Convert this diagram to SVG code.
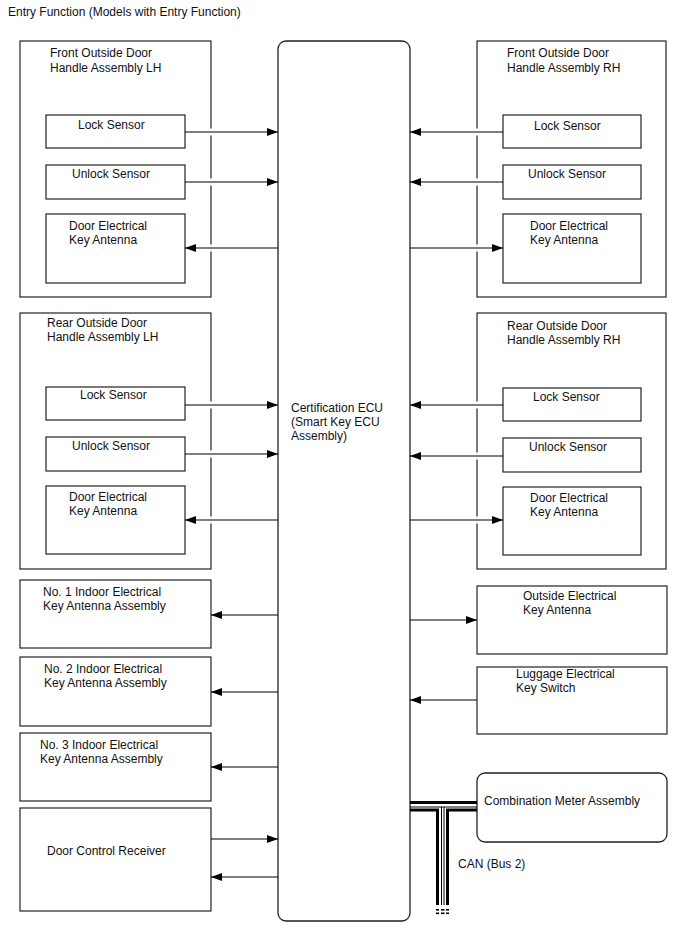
<svg xmlns="http://www.w3.org/2000/svg" width="688" height="949" viewBox="0 0 688 949">
<defs>
<marker id="ah" markerUnits="userSpaceOnUse" markerWidth="12" markerHeight="9" refX="11" refY="4" orient="auto" viewBox="0 0 12 9">
<path d="M0,0 L11,4 L0,8 z" fill="#000"/>
</marker>
<style>
text{font-family:"Liberation Sans",Arial,sans-serif;font-size:12px;fill:#111}
.box{fill:#fff;stroke:#222;stroke-width:1.2}
.rbox{fill:#fff;stroke:#222;stroke-width:1.3}
.c{fill:none;stroke:#000;stroke-width:1.1}
.a{fill:none;stroke:#000;stroke-width:1.1;marker-end:url(#ah)}
.halo{stroke:#fff;stroke-width:7;fill:none}
.thick{fill:none;stroke:#000;stroke-width:3}
.thin{fill:none;stroke:#000;stroke-width:1}
</style>
</defs>
<rect width="688" height="949" fill="#fff"/>
<text x="8" y="16">Entry Function (Models with Entry Function)</text>

<g id="ecu">
<rect class="rbox" x="278" y="41" width="132" height="880" rx="8"/>
<text x="291" y="412">Certification ECU</text>
<text x="291" y="426">(Smart Key ECU</text>
<text x="291" y="440">Assembly)</text>
</g>

<g id="front-lh">
<rect class="box" x="20" y="41" width="191" height="256"/>
<text x="50" y="57">Front Outside Door</text>
<text x="50" y="72">Handle Assembly LH</text>
</g>
<g id="front-lh-lock"><rect class="box" x="46" y="115" width="139" height="33"/><text x="78" y="129">Lock Sensor</text></g>
<g id="front-lh-unlock"><rect class="box" x="46" y="165" width="139" height="34"/><text x="72" y="178">Unlock Sensor</text></g>
<g id="front-lh-ant"><rect class="box" x="46" y="214" width="139" height="69"/><text x="69" y="230">Door Electrical</text><text x="69" y="244">Key Antenna</text></g>

<g id="front-rh">
<rect class="box" x="477" y="41" width="189" height="256"/>
<text x="507" y="57">Front Outside Door</text>
<text x="507" y="72">Handle Assembly RH</text>
</g>
<g id="front-rh-lock"><rect class="box" x="503" y="115" width="138" height="33"/><text x="534" y="130">Lock Sensor</text></g>
<g id="front-rh-unlock"><rect class="box" x="503" y="165" width="138" height="34"/><text x="528" y="178">Unlock Sensor</text></g>
<g id="front-rh-ant"><rect class="box" x="503" y="214" width="138" height="69"/><text x="530" y="230">Door Electrical</text><text x="530" y="244">Key Antenna</text></g>

<g id="rear-lh">
<rect class="box" x="20" y="313" width="191" height="256"/>
<text x="47" y="327">Rear Outside Door</text>
<text x="47" y="341">Handle Assembly LH</text>
</g>
<g id="rear-lh-lock"><rect class="box" x="46" y="387" width="139" height="33"/><text x="80" y="399">Lock Sensor</text></g>
<g id="rear-lh-unlock"><rect class="box" x="46" y="437" width="139" height="34"/><text x="72" y="450">Unlock Sensor</text></g>
<g id="rear-lh-ant"><rect class="box" x="46" y="486" width="139" height="68"/><text x="69" y="501">Door Electrical</text><text x="69" y="515">Key Antenna</text></g>

<g id="rear-rh">
<rect class="box" x="477" y="313" width="189" height="256"/>
<text x="507" y="330">Rear Outside Door</text>
<text x="507" y="344">Handle Assembly RH</text>
</g>
<g id="rear-rh-lock"><rect class="box" x="503" y="388" width="138" height="33"/><text x="533" y="401">Lock Sensor</text></g>
<g id="rear-rh-unlock"><rect class="box" x="503" y="438" width="138" height="34"/><text x="529" y="451">Unlock Sensor</text></g>
<g id="rear-rh-ant"><rect class="box" x="503" y="487" width="138" height="68"/><text x="530" y="502">Door Electrical</text><text x="530" y="516">Key Antenna</text></g>

<g id="indoor1"><rect class="box" x="20" y="580" width="191" height="68"/><text x="43" y="596">No. 1 Indoor Electrical</text><text x="43" y="610">Key Antenna Assembly</text></g>
<g id="indoor2"><rect class="box" x="20" y="657" width="191" height="69"/><text x="44" y="673">No. 2 Indoor Electrical</text><text x="44" y="687">Key Antenna Assembly</text></g>
<g id="indoor3"><rect class="box" x="20" y="733" width="191" height="68"/><text x="40" y="749">No. 3 Indoor Electrical</text><text x="40" y="763">Key Antenna Assembly</text></g>
<g id="door-control-receiver"><rect class="box" x="20" y="808" width="191" height="103"/><text x="47" y="855">Door Control Receiver</text></g>

<g id="outside-antenna"><rect class="box" x="477" y="586" width="190" height="68"/><text x="523" y="600">Outside Electrical</text><text x="523" y="614">Key Antenna</text></g>
<g id="luggage-switch"><rect class="box" x="477" y="667" width="190" height="67"/><text x="516" y="678">Luggage Electrical</text><text x="516" y="692">Key Switch</text></g>
<g id="combination-meter"><rect class="rbox" x="477" y="773" width="190" height="69" rx="8"/><text x="484" y="805">Combination Meter Assembly</text></g>

<g id="connectors">
<path class="halo" d="M209,132H213 M209,182H213 M209,248H213 M475,132H479 M475,182H479 M475,248H479 M209,405H213 M209,454H213 M209,520H213 M475,405H479 M475,456H479 M475,520H479"/>
<line class="a" x1="185" y1="132" x2="278" y2="132"/>
<line class="a" x1="185" y1="182" x2="278" y2="182"/>
<line class="a" x1="278" y1="248" x2="185" y2="248"/>
<line class="a" x1="503" y1="132" x2="410" y2="132"/>
<line class="a" x1="503" y1="182" x2="410" y2="182"/>
<line class="a" x1="410" y1="248" x2="503" y2="248"/>
<line class="a" x1="185" y1="405" x2="278" y2="405"/>
<line class="a" x1="185" y1="454" x2="278" y2="454"/>
<line class="a" x1="278" y1="520" x2="185" y2="520"/>
<line class="a" x1="503" y1="405" x2="410" y2="405"/>
<line class="a" x1="503" y1="456" x2="410" y2="456"/>
<line class="a" x1="410" y1="520" x2="503" y2="520"/>
<line class="a" x1="278" y1="615" x2="211" y2="615"/>
<line class="a" x1="278" y1="692" x2="211" y2="692"/>
<line class="a" x1="278" y1="767" x2="211" y2="767"/>
<line class="a" x1="211" y1="839" x2="278" y2="839"/>
<line class="a" x1="278" y1="877" x2="211" y2="877"/>
<line class="a" x1="410" y1="620" x2="477" y2="620"/>
<line class="a" x1="477" y1="700" x2="410" y2="700"/>
<g id="can-bus">
<line class="thick" x1="410" y1="802.5" x2="477" y2="802.5"/>
<line class="thin" x1="410" y1="807" x2="477" y2="807"/>
<path class="thick" d="M410,810H437.5V905"/>
<path class="thick" d="M477,810H447.5V905"/>
<line class="thin" x1="441.5" y1="807" x2="441.5" y2="905"/>
<line class="thin" x1="444" y1="807" x2="444" y2="905"/>
<g fill="#000">
<rect x="436" y="909" width="3" height="1.6"/><rect x="441" y="909" width="3.5" height="1.6"/><rect x="446" y="909" width="3" height="1.6"/>
<rect x="436" y="912.5" width="3" height="1.6"/><rect x="441" y="912.5" width="3.5" height="1.6"/><rect x="446" y="912.5" width="3" height="1.6"/>
</g>
</g>
</g>
<text x="458" y="868">CAN (Bus 2)</text>
</svg>
